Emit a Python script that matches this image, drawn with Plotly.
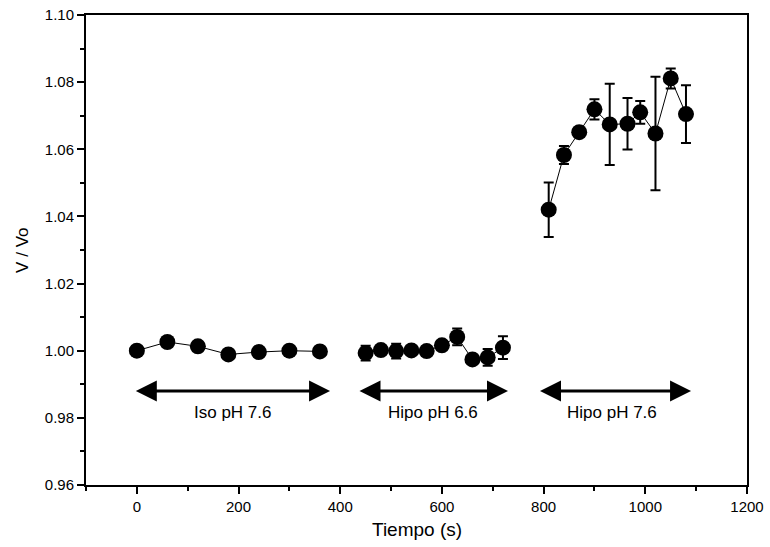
import plotly.graph_objects as go

# Iso pH 7.6
t_iso = [0, 60, 120, 180, 240, 300, 360]
v_iso = [1.0000, 1.0026, 1.0013, 0.9989, 0.9996, 1.0000, 0.9998]
e_iso = [0.0, 0.0, 0.0, 0.0, 0.0, 0.0013, 0.0]

# Hipo pH 6.6
t_h66 = [450, 480, 510, 540, 570, 600, 630, 660, 690, 720]
v_h66 = [0.9993, 1.0002, 0.9999, 1.0001, 0.9999, 1.0016, 1.0041, 0.9974, 0.9980, 1.0009]
e_h66 = [0.0022, 0.0012, 0.0022, 0.0005, 0.0015, 0.0005, 0.0025, 0.0, 0.0025, 0.0034]

# Hipo pH 7.6
t_h76 = [810, 840, 870, 900, 930, 965, 990, 1020, 1050, 1080]
v_h76 = [1.0420, 1.0583, 1.0651, 1.0719, 1.0674, 1.0676, 1.0710, 1.0647, 1.0811, 1.0705]
e_h76 = [0.0081, 0.0027, 0.0, 0.0030, 0.0121, 0.0077, 0.0034, 0.0169, 0.0030, 0.0086]

# phase arrows and labels
phase_labels = ["Iso pH 7.6", "Hipo pH 6.6", "Hipo pH 7.6"]
phase_start = [-5, 435, 790]
phase_end = [380, 730, 1090]
phase_text_x = [190, 583, 935]
arrow_y = 0.988
label_y = 0.9815

x_ticks = [0, 200, 400, 600, 800, 1000, 1200]
y_ticks = [0.96, 0.98, 1.00, 1.02, 1.04, 1.06, 1.08, 1.10]

FONT = "Liberation Sans, Arial"

fig = go.Figure()
for t, v, e in [(t_iso, v_iso, e_iso), (t_h66, v_h66, e_h66), (t_h76, v_h76, e_h76)]:
    fig.add_trace(go.Scatter(
        x=t, y=v, mode="lines+markers",
        line=dict(color="black", width=1),
        marker=dict(color="black", size=16, line=dict(width=0)),
        error_y=dict(type="data", array=e, visible=True, color="black",
                     thickness=2, width=5),
        showlegend=False,
    ))

for s, en, tx, lab in zip(phase_start, phase_end, phase_text_x, phase_labels):
    fig.add_annotation(x=en, y=arrow_y, ax=s, ay=arrow_y, xref="x", yref="y",
                       axref="x", ayref="y", text="", showarrow=True,
                       arrowhead=2, startarrowhead=2, arrowside="end+start",
                       arrowwidth=3, arrowsize=1.4, startarrowsize=1.4,
                       arrowcolor="black", standoff=0, startstandoff=0)
    fig.add_annotation(x=tx, y=label_y, text=lab, showarrow=False,
                       xref="x", yref="y",
                       font=dict(family=FONT, size=17, color="black"))

# axis titles
fig.add_annotation(x=0.5, y=-0.094, xref="paper", yref="paper", text="Tiempo (s)",
                   showarrow=False, xanchor="center", yanchor="middle",
                   font=dict(family=FONT, size=19, color="black"))
fig.add_annotation(x=-0.097, y=0.5, xref="paper", yref="paper", text="V / Vo",
                   showarrow=False, xanchor="center", yanchor="middle", textangle=-90,
                   font=dict(family=FONT, size=17, color="black"))

axis_common = dict(showline=True, linecolor="black", linewidth=2, mirror=True,
                   ticks="outside", ticklen=7, tickwidth=2, tickcolor="black",
                   showgrid=False, zeroline=False, automargin=False,
                   ticklabeloverflow="allow",
                   tickfont=dict(family=FONT, size=15, color="black"))

fig.update_xaxes(range=[-100, 1200], tickvals=x_ticks,
                 minor=dict(ticks="outside", ticklen=4, tickwidth=2, tickcolor="black", dtick=100, tick0=0),
                 **axis_common)
fig.update_yaxes(range=[0.96, 1.10], tickvals=y_ticks, tickformat=".2f",
                 minor=dict(ticks="outside", ticklen=4, tickwidth=2, tickcolor="black", dtick=0.01, tick0=0.96),
                 **axis_common)

fig.update_layout(width=770, height=547, margin=dict(l=86, r=23, t=15, b=62),
                  plot_bgcolor="white", paper_bgcolor="white")
fig.write_html("out.html", config={"displayModeBar": False},
               post_script="document.body.style.margin='0px';")
